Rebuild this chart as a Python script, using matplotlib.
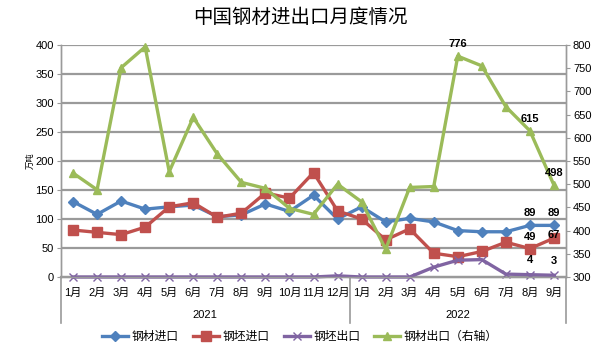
import matplotlib
matplotlib.use("Agg")
import matplotlib.pyplot as plt
import matplotlib.transforms as mtransforms

plt.rcParams["font.family"] = ["Liberation Sans", "Noto Sans CJK SC", "DejaVu Sans"]

# data
months = ["1月", "2月", "3月", "4月", "5月", "6月", "7月", "8月", "9月", "10月", "11月", "12月",
          "1月", "2月", "3月", "4月", "5月", "6月", "7月", "8月", "9月"]
years = ["2021", "2022"]
year_counts = [12, 9]

steel_import = [130, 108, 131, 117, 121, 124, 104, 107, 126, 113, 141, 100,
                121, 95, 101, 95, 80, 78, 78, 89, 89]
billet_import = [81, 77, 73, 86, 121, 128, 103, 110, 145, 136, 180, 114,
                 100, 64, 83, 41, 35, 44, 60, 49, 67]
billet_export = [0, 0, 0, 0, 0, 0, 0, 0, 0, 0, 0, 2,
                 0, 0, 0, 17, 29, 30, 5, 4, 3]
steel_export = [524, 488, 751, 796, 527, 644, 565, 504, 491, 448, 435, 500,
                462, 360, 493, 495, 776, 755, 667, 615, 498]

series_names = ["钢材进口", "钢坯进口", "钢坯出口", "钢材出口（右轴）"]
colors = ["#4F81BD", "#C0504D", "#8064A2", "#9BBB59"]

fig = plt.figure(figsize=(6.0, 3.56), dpi=100)
ax = fig.add_axes([0.1017, 0.2219, 0.8416, 0.6517])
ax2 = ax.twinx()

x = list(range(len(months)))
grid_col = "#9a9a9a"

ax.set_ylim(0, 400)
ax.set_yticks(range(0, 401, 50))
ax2.set_ylim(300, 800)
ax2.set_yticks(range(300, 801, 50))
ax.set_xlim(-0.5, len(months) - 0.5)

ax.set_axisbelow(True)
ax.yaxis.grid(True, color=grid_col, linewidth=1.6)
for a in (ax, ax2):
    a.spines["top"].set_visible(False)
    for s in ("left", "right", "bottom"):
        a.spines[s].set_color(grid_col)
        a.spines[s].set_linewidth(1.0)
ax.spines["bottom"].set_visible(False)

ax.tick_params(axis="y", labelsize=8, length=3, color=grid_col, pad=2)
ax2.tick_params(axis="y", labelsize=8, length=3, color=grid_col, pad=2)

ax.set_xticks(x)
ax.set_xticklabels(months, fontsize=8)
ax.tick_params(axis="x", length=0, pad=8)

lw = 2.4
l1, = ax.plot(x, steel_import, color=colors[0], lw=lw, marker="D", ms=5, zorder=4)
l2, = ax.plot(x, billet_import, color=colors[1], lw=lw, marker="s", ms=7, zorder=4)
l3, = ax.plot(x, billet_export, color=colors[2], lw=lw, marker="x", ms=6, mew=1.0, zorder=5, clip_on=False)
l4, = ax2.plot(x, steel_export, color=colors[3], lw=lw, marker="^", ms=6, zorder=3, clip_on=False)

# data labels on the last points
lab = dict(fontsize=8, fontweight="bold", ha="center", va="bottom", color="black", zorder=10)
for i in (19, 20):
    ax.annotate(str(steel_import[i]), (x[i], steel_import[i]), xytext=(0, 5), textcoords="offset points", **lab)
    ax.annotate(str(billet_import[i]), (x[i], billet_import[i]), xytext=(0, 5 if i == 19 else -1), textcoords="offset points", **lab)
    ax.annotate(str(billet_export[i]), (x[i], billet_export[i]), xytext=(0, 7), textcoords="offset points", **lab)
for i in (16, 19, 20):
    ax2.annotate(str(steel_export[i]), (x[i], steel_export[i]), xytext=(0, 5), textcoords="offset points", **lab)

# two-level category axis: separators and year labels
trans = mtransforms.blended_transform_factory(ax.transData, ax.transAxes)
ax.plot([-0.5, len(months) - 0.5], [0, 0], color=grid_col, lw=1.6, transform=trans, clip_on=False, zorder=1)
edge = -0.5
for yr, n in zip(years, year_counts):
    ax.plot([edge, edge], [0, -0.2], color=grid_col, lw=1.2, transform=trans, clip_on=False)
    ax.text(edge + n / 2, -0.165, yr, transform=trans, ha="center", va="center", fontsize=8)
    edge += n
ax.plot([edge, edge], [0, -0.2], color=grid_col, lw=1.2, transform=trans, clip_on=False)

ax.text(-0.06, 0.5, "万吨", transform=ax.transAxes, rotation=90, ha="center", va="center", fontsize=6)

fig.text(0.5, 0.95, "中国钢材进出口月度情况", ha="center", va="center", fontsize=14)

fig.legend([l1, l2, l3, l4], series_names, loc="center", bbox_to_anchor=(0.5, 0.053), ncol=4,
           frameon=False, fontsize=8.5, handlelength=2.2, columnspacing=1.2, handletextpad=0.3)

fig.savefig("out.png", dpi=100)
